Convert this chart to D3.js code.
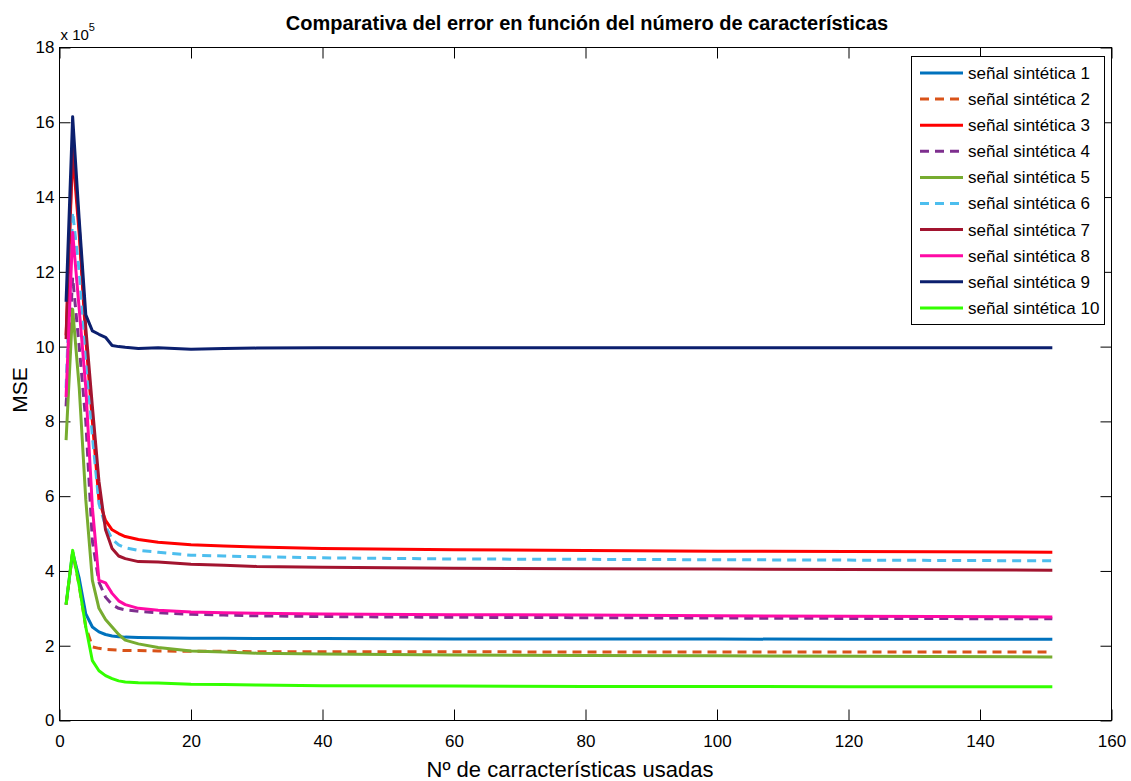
<!DOCTYPE html>
<html>
<head>
<meta charset="utf-8">
<script src="https://cdn.jsdelivr.net/npm/d3@7"></script>
<style>
  body { margin: 0; background: #fff; }
  text { font-family: "Liberation Sans", Arial, sans-serif; fill: #000; }
</style>
</head>
<body>
<div id="vis"></div>
<script>
// number of features used (x) and MSE / 1e5 for each synthetic signal
var features = [1, 2, 3, 4, 5, 6, 7, 8, 9, 10, 12, 15, 20, 25, 30, 40, 60, 80, 100, 120, 151];

var signal1  = [3.1, 4.5, 3.8, 2.85, 2.5, 2.37, 2.3, 2.26, 2.24, 2.23, 2.22, 2.21, 2.2, 2.2, 2.19, 2.19, 2.18, 2.18, 2.18, 2.17, 2.17];
var signal2  = [3.1, 4.5, 3.6, 2.5, 1.97, 1.93, 1.9, 1.89, 1.88, 1.87, 1.87, 1.86, 1.85, 1.85, 1.84, 1.84, 1.84, 1.83, 1.83, 1.83, 1.83];
var signal3  = [10.3, 15.2, 13.0, 10.2, 8.0, 5.9, 5.35, 5.1, 5.0, 4.92, 4.84, 4.77, 4.7, 4.67, 4.64, 4.6, 4.57, 4.55, 4.53, 4.52, 4.5];
var signal4  = [8.4, 11.85, 10.0, 8.0, 4.8, 3.7, 3.3, 3.1, 3.0, 2.96, 2.92, 2.88, 2.84, 2.82, 2.8, 2.78, 2.76, 2.75, 2.74, 2.73, 2.72];
var signal5  = [7.5, 11.0, 8.9, 5.9, 3.75, 3.0, 2.7, 2.5, 2.3, 2.15, 2.05, 1.95, 1.86, 1.83, 1.8, 1.78, 1.75, 1.74, 1.73, 1.72, 1.7];
var signal6  = [8.9, 13.6, 12.0, 9.8, 7.6, 5.8, 5.2, 4.85, 4.7, 4.62, 4.55, 4.5, 4.42, 4.4, 4.38, 4.35, 4.32, 4.31, 4.3, 4.29, 4.27];
var signal7  = [10.2, 15.5, 13.2, 10.5, 8.4, 6.4, 5.1, 4.6, 4.4, 4.33, 4.25, 4.24, 4.18, 4.15, 4.12, 4.1, 4.07, 4.06, 4.05, 4.04, 4.02];
var signal8  = [8.65, 13.05, 11.0, 8.9, 5.7, 3.75, 3.68, 3.4, 3.2, 3.1, 3.0, 2.95, 2.9, 2.88, 2.87, 2.85, 2.83, 2.82, 2.8, 2.79, 2.77];
var signal9  = [11.2, 16.15, 13.4, 10.85, 10.42, 10.33, 10.25, 10.03, 10.0, 9.98, 9.95, 9.97, 9.93, 9.95, 9.96, 9.97, 9.97, 9.97, 9.97, 9.97, 9.97];
var signal10 = [3.1, 4.55, 3.6, 2.5, 1.6, 1.33, 1.2, 1.12, 1.06, 1.03, 1.01, 1.0, 0.97, 0.96, 0.95, 0.93, 0.92, 0.91, 0.91, 0.9, 0.9];

var seriesNames = ['señal sintética 1', 'señal sintética 2', 'señal sintética 3', 'señal sintética 4', 'señal sintética 5',
                   'señal sintética 6', 'señal sintética 7', 'señal sintética 8', 'señal sintética 9', 'señal sintética 10'];
var seriesValues = [signal1, signal2, signal3, signal4, signal5, signal6, signal7, signal8, signal9, signal10];

var xTicks = [0, 20, 40, 60, 80, 100, 120, 140, 160];
var yTicks = [0, 2, 4, 6, 8, 10, 12, 14, 16, 18];

// styling
var colors = ['#0072bd', '#d95319', '#ff0000', '#7e2f8e', '#77ac30', '#4dbeee', '#a2142f', '#ff0aa5', '#0b1f6e', '#33ff00'];
var dashed = [false, true, false, true, false, true, false, false, false, false];

var W = 1131, H = 781;
var plot = { left: 59.5, top: 47.5, right: 1111.5, bottom: 720.5 };

var svg = d3.select('#vis').append('svg')
    .attr('width', W)
    .attr('height', H);

var x = d3.scaleLinear().domain([0, 160]).range([plot.left, plot.right]);
var y = d3.scaleLinear().domain([0, 18]).range([plot.bottom, plot.top]);

var tickLen = 11;

// axes (matlab style, ticks inside, boxed)
svg.append('g')
    .attr('transform', 'translate(0,' + plot.bottom + ')')
    .call(d3.axisBottom(x).tickValues(xTicks).tickSizeInner(-tickLen).tickSizeOuter(0).tickPadding(14))
    .call(function (g) {
        g.select('.domain').remove();
        g.selectAll('text').attr('font-size', 17).attr('font-family', null);
    });

svg.append('g')
    .attr('transform', 'translate(0,' + plot.top + ')')
    .call(d3.axisTop(x).tickValues(xTicks).tickSizeInner(-tickLen).tickSizeOuter(0).tickFormat(''))
    .call(function (g) { g.select('.domain').remove(); });

svg.append('g')
    .attr('transform', 'translate(' + plot.left + ',0)')
    .call(d3.axisLeft(y).tickValues(yTicks).tickSizeInner(-tickLen).tickSizeOuter(0).tickPadding(5))
    .call(function (g) {
        g.select('.domain').remove();
        g.selectAll('text').attr('font-size', 17).attr('font-family', null);
    });

svg.append('g')
    .attr('transform', 'translate(' + plot.right + ',0)')
    .call(d3.axisRight(y).tickValues(yTicks).tickSizeInner(-tickLen).tickSizeOuter(0).tickFormat(''))
    .call(function (g) { g.select('.domain').remove(); });

svg.selectAll('.tick line').attr('stroke', '#000');

svg.append('rect')
    .attr('x', plot.left)
    .attr('y', plot.top)
    .attr('width', plot.right - plot.left)
    .attr('height', plot.bottom - plot.top)
    .attr('fill', 'none')
    .attr('stroke', '#000')
    .attr('stroke-width', 1);

// lines
var line = d3.line()
    .x(function (d) { return x(d[0]); })
    .y(function (d) { return y(d[1]); });

svg.append('clipPath').attr('id', 'clip')
    .append('rect')
    .attr('x', plot.left).attr('y', plot.top)
    .attr('width', plot.right - plot.left).attr('height', plot.bottom - plot.top);

svg.append('g')
    .attr('clip-path', 'url(#clip)')
    .selectAll('path')
    .data(seriesValues)
    .enter()
    .append('path')
    .attr('d', function (vals) {
        return line(vals.map(function (v, i) { return [features[i], v]; }));
    })
    .attr('fill', 'none')
    .attr('stroke', function (d, i) { return colors[i]; })
    .attr('stroke-width', 3)
    .attr('stroke-linejoin', 'round')
    .attr('stroke-dasharray', function (d, i) { return dashed[i] ? '9,6' : null; });

// exponent label
var expo = svg.append('text')
    .attr('x', plot.left + 1)
    .attr('y', 40)
    .attr('font-size', 15);
expo.append('tspan').text('x 10');
expo.append('tspan').attr('dy', -9).attr('font-size', 11).text('5');

// title and axis labels
svg.append('text')
    .attr('x', 587)
    .attr('y', 30)
    .attr('text-anchor', 'middle')
    .attr('font-size', 20)
    .attr('font-weight', 'bold')
    .text('Comparativa del error en función del número de características');

svg.append('text')
    .attr('x', 570)
    .attr('y', 777)
    .attr('text-anchor', 'middle')
    .attr('font-size', 22)
    .text('Nº de carracterísticas usadas');

svg.append('text')
    .attr('transform', 'translate(27,' + ((plot.top + plot.bottom) / 2 + 6) + ') rotate(-90)')
    .attr('text-anchor', 'middle')
    .attr('font-size', 21)
    .text('MSE');

// legend
var legend = svg.append('g');
legend.append('rect')
    .attr('x', 911.5).attr('y', 56.5)
    .attr('width', 193).attr('height', 268)
    .attr('fill', '#fff')
    .attr('stroke', '#000');

var rows = legend.selectAll('g.row')
    .data(seriesNames)
    .enter()
    .append('g')
    .attr('class', 'row')
    .attr('transform', function (d, i) { return 'translate(0,' + (73 + i * 26.1) + ')'; });

rows.append('line')
    .attr('x1', 920).attr('x2', 963)
    .attr('stroke', function (d, i) { return colors[i]; })
    .attr('stroke-width', 3)
    .attr('stroke-dasharray', function (d, i) { return dashed[i] ? '9,6' : null; });

rows.append('text')
    .attr('x', 968)
    .attr('dy', '0.35em')
    .attr('font-size', 17)
    .text(function (d) { return d; });
</script>
</body>
</html>
